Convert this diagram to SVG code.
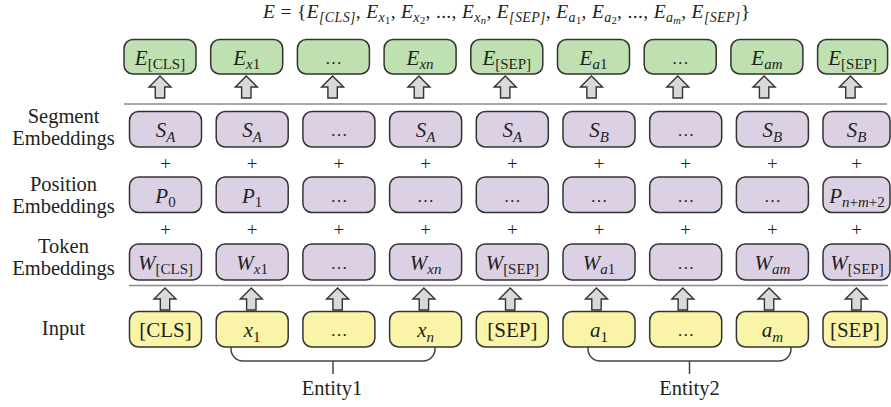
<svg xmlns="http://www.w3.org/2000/svg" xmlns:xlink="http://www.w3.org/1999/xlink" width="891" height="407" viewBox="0 0 891 407">
<defs>
<style>
text{font-family:"Liberation Serif","DejaVu Serif",serif;fill:#231f20}
.t{font-size:21px;text-anchor:middle}
.e{font-size:17px}
.i{font-style:italic}
.s{font-size:15px}
.lbl{font-size:20.5px;text-anchor:middle}
.pl{font-size:19px;text-anchor:middle}
.g rect{fill:#bfe0b0;stroke:#333;stroke-width:1.5}
.p rect{fill:#dcd1e4;stroke:#333;stroke-width:1.5}
.y rect{fill:#f9f4a8;stroke:#333;stroke-width:1.5}
.sep{stroke:#8a8a8a;stroke-width:1.5;fill:none}
.br{stroke:#444;stroke-width:1.5;fill:none}
</style>
<path id="arr" d="M0,0 L11,11 L4.7,11 L4.7,22 L-4.7,22 L-4.7,11 L-11,11 Z" fill="#d9d9d9" stroke="#333" stroke-width="1.4"/>
</defs>
<rect width="891" height="407" fill="#fff"/>

<text id="formula" x="263" y="17.5" font-size="19.5" textLength="487" lengthAdjust="spacing"><tspan class="i">E</tspan> = {<tspan class="i">E</tspan><tspan class="i" font-size="14" dy="4">[CLS]</tspan><tspan dy="-4">, </tspan><tspan class="i">E</tspan><tspan class="i" font-size="14" dy="4">x</tspan><tspan font-size="10.5" dy="2.5">1</tspan><tspan dy="-6.5">, </tspan><tspan class="i">E</tspan><tspan class="i" font-size="14" dy="4">x</tspan><tspan font-size="10.5" dy="2.5">2</tspan><tspan dy="-6.5">, ..., </tspan><tspan class="i">E</tspan><tspan class="i" font-size="14" dy="4">x</tspan><tspan class="i" font-size="10.5" dy="2.5">n</tspan><tspan dy="-6.5">, </tspan><tspan class="i">E</tspan><tspan class="i" font-size="14" dy="4">[SEP]</tspan><tspan dy="-4">, </tspan><tspan class="i">E</tspan><tspan class="i" font-size="14" dy="4">a</tspan><tspan font-size="10.5" dy="2.5">1</tspan><tspan dy="-6.5">, </tspan><tspan class="i">E</tspan><tspan class="i" font-size="14" dy="4">a</tspan><tspan font-size="10.5" dy="2.5">2</tspan><tspan dy="-6.5">, ..., </tspan><tspan class="i">E</tspan><tspan class="i" font-size="14" dy="4">a</tspan><tspan class="i" font-size="10.5" dy="2.5">m</tspan><tspan dy="-6.5">, </tspan><tspan class="i">E</tspan><tspan class="i" font-size="14" dy="4">[SEP]</tspan><tspan dy="-4">}</tspan></text>

<g id="labels">
<text class="lbl" x="63.5" y="123">Segment</text>
<text class="lbl" x="63.5" y="145">Embeddings</text>
<text class="lbl" x="63.5" y="191">Position</text>
<text class="lbl" x="63.5" y="213">Embeddings</text>
<text class="lbl" x="63.5" y="253">Token</text>
<text class="lbl" x="63.5" y="275">Embeddings</text>
<text class="lbl" x="63.5" y="335">Input</text>
</g>

<g id="connectors">
<line class="sep" x1="124" y1="104" x2="887" y2="104"/>
<line class="sep" x1="129" y1="285.5" x2="888" y2="285.5"/>
<use xlink:href="#arr" x="160" y="76"/>
<use xlink:href="#arr" x="246.3" y="76"/>
<use xlink:href="#arr" x="332.6" y="76"/>
<use xlink:href="#arr" x="418.9" y="76"/>
<use xlink:href="#arr" x="505.2" y="76"/>
<use xlink:href="#arr" x="591.5" y="76"/>
<use xlink:href="#arr" x="677.8" y="76"/>
<use xlink:href="#arr" x="764.1" y="76"/>
<use xlink:href="#arr" x="850.4" y="76"/>
<use xlink:href="#arr" x="165" y="288"/>
<use xlink:href="#arr" x="251.3" y="288"/>
<use xlink:href="#arr" x="337.6" y="288"/>
<use xlink:href="#arr" x="423.9" y="288"/>
<use xlink:href="#arr" x="510.2" y="288"/>
<use xlink:href="#arr" x="596.5" y="288"/>
<use xlink:href="#arr" x="682.8" y="288"/>
<use xlink:href="#arr" x="769.1" y="288"/>
<use xlink:href="#arr" x="856.4" y="288"/>
<path class="br" d="M231,347 L231,349 A12,12 0 0 0 243,361 L423,361 A12,12 0 0 0 435,349 L435,347 M333,361 L333,374"/>
<path class="br" d="M588,347 L588,349 A12,12 0 0 0 600,361 L779,361 A12,12 0 0 0 791,349 L791,347 M689.5,361 L689.5,374"/>
</g>

<g id="plus">
<text class="pl" x="165.5" y="169.5">+</text><text class="pl" x="252.2" y="169.5">+</text><text class="pl" x="338.9" y="169.5">+</text><text class="pl" x="425.6" y="169.5">+</text><text class="pl" x="512.3" y="169.5">+</text><text class="pl" x="599" y="169.5">+</text><text class="pl" x="685.7" y="169.5">+</text><text class="pl" x="772.4" y="169.5">+</text><text class="pl" x="856.5" y="169.5">+</text>
<text class="pl" x="165.5" y="236">+</text><text class="pl" x="252.2" y="236">+</text><text class="pl" x="338.9" y="236">+</text><text class="pl" x="425.6" y="236">+</text><text class="pl" x="512.3" y="236">+</text><text class="pl" x="599" y="236">+</text><text class="pl" x="685.7" y="236">+</text><text class="pl" x="772.4" y="236">+</text><text class="pl" x="856.5" y="236">+</text>
</g>

<!-- Output embeddings (green) -->
<g id="E0" class="g"><rect x="124" y="39.5" width="72" height="34.5" rx="9"/><text class="t" x="160" y="64.5"><tspan class="i">E</tspan><tspan class="s" dy="4.5">[CLS]</tspan></text></g>
<g id="E1" class="g"><rect x="210.7" y="39.5" width="72" height="34.5" rx="9"/><text class="t" x="246.7" y="64.5"><tspan class="i">E</tspan><tspan class="s i" dy="4.5">x</tspan><tspan class="s">1</tspan></text></g>
<g id="E2" class="g"><rect x="297.4" y="39.5" width="72" height="34.5" rx="9"/><text class="t e" x="333.4" y="63.5">…</text></g>
<g id="E3" class="g"><rect x="384.1" y="39.5" width="72" height="34.5" rx="9"/><text class="t" x="420.1" y="64.5"><tspan class="i">E</tspan><tspan class="s i" dy="4.5">xn</tspan></text></g>
<g id="E4" class="g"><rect x="470.8" y="39.5" width="72" height="34.5" rx="9"/><text class="t" x="506.8" y="64.5"><tspan class="i">E</tspan><tspan class="s" dy="4.5">[SEP]</tspan></text></g>
<g id="E5" class="g"><rect x="557.5" y="39.5" width="72" height="34.5" rx="9"/><text class="t" x="593.5" y="64.5"><tspan class="i">E</tspan><tspan class="s i" dy="4.5">a</tspan><tspan class="s">1</tspan></text></g>
<g id="E6" class="g"><rect x="644.2" y="39.5" width="72" height="34.5" rx="9"/><text class="t e" x="680.2" y="63.5">…</text></g>
<g id="E7" class="g"><rect x="730.9" y="39.5" width="72" height="34.5" rx="9"/><text class="t" x="766.9" y="64.5"><tspan class="i">E</tspan><tspan class="s i" dy="4.5">am</tspan></text></g>
<g id="E8" class="g"><rect x="817.6" y="39.5" width="70" height="34.5" rx="9"/><text class="t" x="852.6" y="64.5"><tspan class="i">E</tspan><tspan class="s" dy="4.5">[SEP]</tspan></text></g>

<!-- Segment embeddings -->
<g id="S0" class="p"><rect x="129.5" y="111.5" width="72" height="35.5" rx="9"/><text class="t" x="165.5" y="137"><tspan class="i">S</tspan><tspan class="s i" dy="4.5">A</tspan></text></g>
<g id="S1" class="p"><rect x="216.2" y="111.5" width="72" height="35.5" rx="9"/><text class="t" x="252.2" y="137"><tspan class="i">S</tspan><tspan class="s i" dy="4.5">A</tspan></text></g>
<g id="S2" class="p"><rect x="302.9" y="111.5" width="72" height="35.5" rx="9"/><text class="t e" x="338.9" y="136">…</text></g>
<g id="S3" class="p"><rect x="389.6" y="111.5" width="72" height="35.5" rx="9"/><text class="t" x="425.6" y="137"><tspan class="i">S</tspan><tspan class="s i" dy="4.5">A</tspan></text></g>
<g id="S4" class="p"><rect x="476.3" y="111.5" width="72" height="35.5" rx="9"/><text class="t" x="512.3" y="137"><tspan class="i">S</tspan><tspan class="s i" dy="4.5">A</tspan></text></g>
<g id="S5" class="p"><rect x="563" y="111.5" width="72" height="35.5" rx="9"/><text class="t" x="599" y="137"><tspan class="i">S</tspan><tspan class="s i" dy="4.5">B</tspan></text></g>
<g id="S6" class="p"><rect x="649.7" y="111.5" width="72" height="35.5" rx="9"/><text class="t e" x="685.7" y="136">…</text></g>
<g id="S7" class="p"><rect x="736.4" y="111.5" width="72" height="35.5" rx="9"/><text class="t" x="772.4" y="137"><tspan class="i">S</tspan><tspan class="s i" dy="4.5">B</tspan></text></g>
<g id="S8" class="p"><rect x="823" y="111.5" width="67" height="35.5" rx="9"/><text class="t" x="856.5" y="137"><tspan class="i">S</tspan><tspan class="s i" dy="4.5">B</tspan></text></g>

<!-- Position embeddings -->
<g id="P0" class="p"><rect x="129.5" y="177" width="72" height="35.5" rx="9"/><text class="t" x="165.5" y="202.5"><tspan class="i">P</tspan><tspan class="s" dy="4.5">0</tspan></text></g>
<g id="P1" class="p"><rect x="216.2" y="177" width="72" height="35.5" rx="9"/><text class="t" x="252.2" y="202.5"><tspan class="i">P</tspan><tspan class="s" dy="4.5">1</tspan></text></g>
<g id="P2" class="p"><rect x="302.9" y="177" width="72" height="35.5" rx="9"/><text class="t e" x="338.9" y="201.5">…</text></g>
<g id="P3" class="p"><rect x="389.6" y="177" width="72" height="35.5" rx="9"/><text class="t e" x="425.6" y="201.5">…</text></g>
<g id="P4" class="p"><rect x="476.3" y="177" width="72" height="35.5" rx="9"/><text class="t e" x="512.3" y="201.5">…</text></g>
<g id="P5" class="p"><rect x="563" y="177" width="72" height="35.5" rx="9"/><text class="t e" x="599" y="201.5">…</text></g>
<g id="P6" class="p"><rect x="649.7" y="177" width="72" height="35.5" rx="9"/><text class="t e" x="685.7" y="201.5">…</text></g>
<g id="P7" class="p"><rect x="736.4" y="177" width="72" height="35.5" rx="9"/><text class="t e" x="772.4" y="201.5">…</text></g>
<g id="P8" class="p"><rect x="823" y="177" width="67" height="35.5" rx="9"/><text class="t" x="857" y="202.5"><tspan class="i">P</tspan><tspan class="s i" dy="4.5">n</tspan><tspan class="s">+</tspan><tspan class="s i">m</tspan><tspan class="s">+2</tspan></text></g>

<!-- Token embeddings -->
<g id="W0" class="p"><rect x="129.5" y="244" width="72" height="36" rx="9"/><text class="t" x="165.5" y="269.5"><tspan class="i">W</tspan><tspan class="s" dy="4.5">[CLS]</tspan></text></g>
<g id="W1" class="p"><rect x="216.2" y="244" width="72" height="36" rx="9"/><text class="t" x="252.2" y="269.5"><tspan class="i">W</tspan><tspan class="s i" dy="4.5">x</tspan><tspan class="s">1</tspan></text></g>
<g id="W2" class="p"><rect x="302.9" y="244" width="72" height="36" rx="9"/><text class="t e" x="338.9" y="268.5">…</text></g>
<g id="W3" class="p"><rect x="389.6" y="244" width="72" height="36" rx="9"/><text class="t" x="425.6" y="269.5"><tspan class="i">W</tspan><tspan class="s i" dy="4.5">xn</tspan></text></g>
<g id="W4" class="p"><rect x="476.3" y="244" width="72" height="36" rx="9"/><text class="t" x="512.3" y="269.5"><tspan class="i">W</tspan><tspan class="s" dy="4.5">[SEP]</tspan></text></g>
<g id="W5" class="p"><rect x="563" y="244" width="72" height="36" rx="9"/><text class="t" x="599" y="269.5"><tspan class="i">W</tspan><tspan class="s i" dy="4.5">a</tspan><tspan class="s">1</tspan></text></g>
<g id="W6" class="p"><rect x="649.7" y="244" width="72" height="36" rx="9"/><text class="t e" x="685.7" y="268.5">…</text></g>
<g id="W7" class="p"><rect x="736.4" y="244" width="72" height="36" rx="9"/><text class="t" x="772.4" y="269.5"><tspan class="i">W</tspan><tspan class="s i" dy="4.5">am</tspan></text></g>
<g id="W8" class="p"><rect x="823" y="244" width="67" height="36" rx="9"/><text class="t" x="857" y="269.5"><tspan class="i">W</tspan><tspan class="s" dy="4.5">[SEP]</tspan></text></g>

<!-- Input -->
<g id="I0" class="y"><rect x="129.5" y="311.5" width="72" height="35.5" rx="9"/><text class="t" x="165.5" y="337">[CLS]</text></g>
<g id="I1" class="y"><rect x="216.2" y="311.5" width="72" height="35.5" rx="9"/><text class="t" x="252.2" y="337"><tspan class="i">x</tspan><tspan class="s" dy="4.5">1</tspan></text></g>
<g id="I2" class="y"><rect x="302.9" y="311.5" width="72" height="35.5" rx="9"/><text class="t e" x="338.9" y="336">…</text></g>
<g id="I3" class="y"><rect x="389.6" y="311.5" width="72" height="35.5" rx="9"/><text class="t" x="425.6" y="337"><tspan class="i">x</tspan><tspan class="s i" dy="4.5">n</tspan></text></g>
<g id="I4" class="y"><rect x="476.3" y="311.5" width="72" height="35.5" rx="9"/><text class="t" x="512.3" y="337">[SEP]</text></g>
<g id="I5" class="y"><rect x="563" y="311.5" width="72" height="35.5" rx="9"/><text class="t" x="599" y="337"><tspan class="i">a</tspan><tspan class="s" dy="4.5">1</tspan></text></g>
<g id="I6" class="y"><rect x="649.7" y="311.5" width="72" height="35.5" rx="9"/><text class="t e" x="685.7" y="336">…</text></g>
<g id="I7" class="y"><rect x="736.4" y="311.5" width="72" height="35.5" rx="9"/><text class="t" x="772.4" y="337"><tspan class="i">a</tspan><tspan class="s i" dy="4.5">m</tspan></text></g>
<g id="I8" class="y"><rect x="823" y="311.5" width="64" height="35.5" rx="9"/><text class="t" x="855" y="337">[SEP]</text></g>

<g id="entities">
<text class="lbl" x="332" y="395">Entity1</text>
<text class="lbl" x="689.5" y="395">Entity2</text>
</g>
</svg>
